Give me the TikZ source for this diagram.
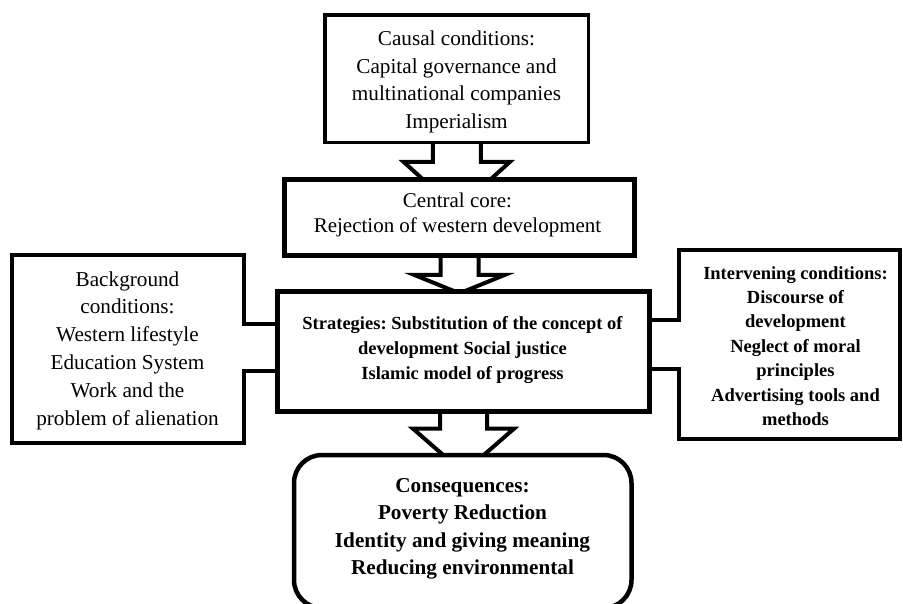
\documentclass[tikz,border=0pt]{standalone}
\usepackage{fontspec}
\setmainfont{Liberation Serif}
\frenchspacing
\begin{document}
\begin{tikzpicture}[x=1pt,y=-1pt,
  ghost/.style={rectangle, inner sep=0pt, outer sep=0pt},
  txt/.style={align=center, inner sep=0pt, outer sep=0pt},
  regtext/.style={font=\fontsize{21.2}{27.8}\selectfont},
  coretext/.style={font=\fontsize{21}{24.5}\selectfont},
  strattext/.style={font=\fontsize{18.5}{25}\selectfont\bfseries},
  inttext/.style={font=\fontsize{18.5}{24.4}\selectfont\bfseries},
  constext/.style={font=\fontsize{21.2}{27.5}\selectfont\bfseries},
  boxline/.style={draw=black, fill=white, line join=miter},
  barrow/.style={draw=black, fill=white, line width=4pt, line join=miter},
  chan/.style={draw=black, line width=4pt, line join=miter}
]
\useasboundingbox (0,0) rectangle (903,604);
\fill[white] (0,0) rectangle (903,604);

% frames (named, drawn later)
\node[ghost, minimum width=263.5pt, minimum height=127.5pt] (causal) at (456.75,78.75) {};
\node[ghost, minimum width=350pt, minimum height=76.5pt] (central) at (459.5,217.75) {};
\node[ghost, minimum width=372pt, minimum height=120pt] (strat) at (463.5,351.5) {};
\node[ghost, minimum width=231.7pt, minimum height=187.5pt] (bg) at (127.85,348.75) {};
\node[ghost, minimum width=221pt, minimum height=189pt] (int) at (789.2,344.5) {};
\node[ghost, minimum width=337.5pt, minimum height=153pt] (cons) at (462.75,531.5) {};

% block arrows
\draw[barrow] ([xshift=-24pt]causal.south) -- ++(0,19.5) -- ++(-29,0) -- ++(53,48) -- ++(53,-48) -- ++(-29,0) -- ++(0,-19.5);
\draw[barrow] ([xshift=-19pt]central.south) -- ++(0,19) -- ++(-26,0) -- ++(45,18.3) -- ++(45,-18.3) -- ++(-26,0) -- ++(0,-19);
\draw[barrow] ([xshift=-23.5pt]strat.south) -- ++(0,17.2) -- ++(-27,0) -- ++(50.5,44) -- ++(50.5,-44) -- ++(-27,0) -- ++(0,-17.2);

% closed boxes
\draw[boxline, line width=3.5pt] (causal.north west) rectangle (causal.south east);
\draw[boxline, line width=5pt] (central.north west) rectangle (central.south east);

% side boxes with open channels
\coordinate (chLa) at (0,323.7);
\coordinate (chLb) at (0,371);
\coordinate (chRa) at (0,320.3);
\coordinate (chRb) at (0,368.7);
\draw[chan] (strat.west |- chLa) -- (bg.east |- chLa) -- (bg.north east) -- (bg.north west) -- (bg.south west) -- (bg.south east) -- (bg.east |- chLb) -- (strat.west |- chLb);
\draw[chan] (strat.east |- chRa) -- (int.west |- chRa) -- (int.north west) -- (int.north east) -- (int.south east) -- (int.south west) -- (int.west |- chRb) -- (strat.east |- chRb);

\draw[boxline, line width=4.5pt] (strat.north west) rectangle (strat.south east);
\draw[boxline, line width=4.5pt, rounded corners=28pt] (cons.north west) rectangle (cons.south east);

% texts
\node[txt, regtext] (causalT) at (456.5,82) {Causal conditions:\\Capital governance and\\multinational companies\\Imperialism};
\node[txt, coretext] (centralT) at (457.5,215) {Central core:\\Rejection of western development};
\node[txt, strattext] (stratT) at (462.5,350) {Strategies: Substitution of the concept of\\development Social justice\\Islamic model of progress};
\node[txt, regtext] (bgT) at (127.5,350.5) {Background\\conditions:\\Western lifestyle\\Education System\\Work and the\\problem of alienation};
\node[txt, inttext] (intT) at (795.5,346) {Intervening conditions:\\Discourse of\\development\\Neglect of moral\\principles\\Advertising tools and\\methods};
\node[txt, constext] (consT) at (462.5,529) {Consequences:\\Poverty Reduction\\Identity and giving meaning\\Reducing environmental};
\end{tikzpicture}
\end{document}
